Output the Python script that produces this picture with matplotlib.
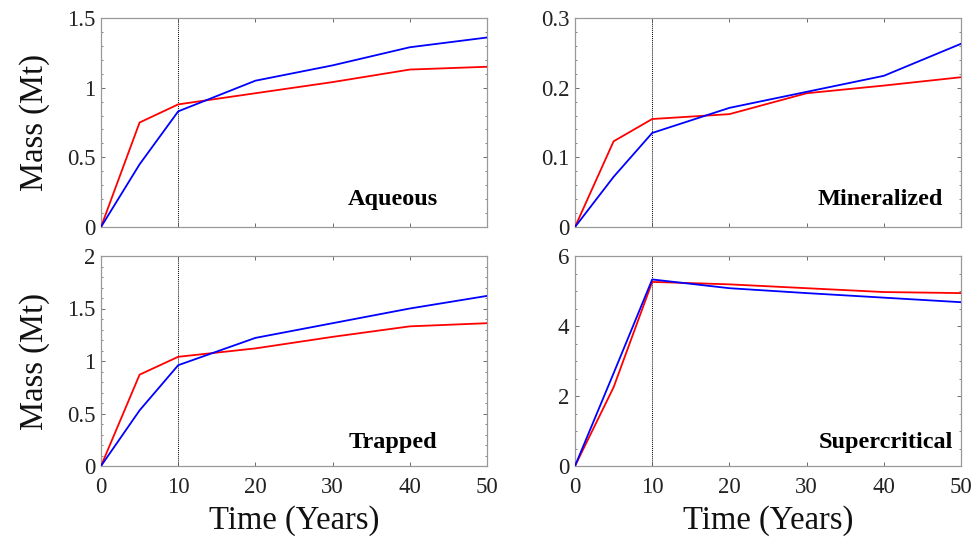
import matplotlib
matplotlib.use("Agg")
import matplotlib.pyplot as plt
from matplotlib.ticker import MultipleLocator

plt.rcParams['font.family'] = ['Liberation Serif', 'DejaVu Serif']

years = [0, 5, 10, 20, 30, 40, 50]

aqueous_red = [0, 0.75, 0.88, 0.96, 1.04, 1.13, 1.15]
aqueous_blue = [0, 0.45, 0.83, 1.05, 1.16, 1.29, 1.36]

mineral_red = [0, 0.123, 0.155, 0.162, 0.192, 0.203, 0.215]
mineral_blue = [0, 0.072, 0.135, 0.171, 0.194, 0.217, 0.263]

trapped_red = [0, 0.87, 1.04, 1.12, 1.23, 1.33, 1.36]
trapped_blue = [0, 0.53, 0.96, 1.22, 1.36, 1.50, 1.62]

super_red = [0, 2.25, 5.26, 5.19, 5.08, 4.97, 4.94]
super_blue = [0, 2.65, 5.33, 5.08, 4.94, 4.81, 4.68]

panels = [
    ("Aqueous", aqueous_red, aqueous_blue, 1.5, [0, 0.5, 1, 1.5], ["0", "0.5", "1", "1.5"], 0.1),
    ("Mineralized", mineral_red, mineral_blue, 0.3, [0, 0.1, 0.2, 0.3], ["0", "0.1", "0.2", "0.3"], 0.02),
    ("Trapped", trapped_red, trapped_blue, 2.0, [0, 0.5, 1, 1.5, 2], ["0", "0.5", "1", "1.5", "2"], 0.1),
    ("Supercritical", super_red, super_blue, 6.0, [0, 2, 4, 6], ["0", "2", "4", "6"], 0.5),
]

W, H = 979, 541
fig = plt.figure(figsize=(W / 100, H / 100), dpi=100)

boxes = [
    (101, 18, 487, 227),
    (575, 18, 961, 227),
    (101, 256, 487, 466),
    (575, 256, 961, 466),
]
label_pos = [(0.873, 0.13), (0.953, 0.13), (0.87, 0.11), (0.98, 0.11)]

for i, (name, red, blue, ymax, yt, ytl, minor) in enumerate(panels):
    x0, y0, x1, y1 = boxes[i]
    ax = fig.add_axes([x0 / W, 1 - y1 / H, (x1 - x0) / W, (y1 - y0) / H])
    ax.axvline(10, color='black', lw=0.7, ls=(0, (1, 1)), zorder=1)
    ax.plot(years, red, color='#ff0000', lw=1.3, zorder=3)
    ax.plot(years, blue, color='#0000ff', lw=1.3, zorder=3)
    ax.set_xlim(0, 50)
    ax.set_ylim(0, ymax)
    ax.set_xticks([0, 10, 20, 30, 40, 50])
    ax.set_yticks(yt)
    ax.set_yticklabels(ytl)
    ax.yaxis.set_minor_locator(MultipleLocator(minor))
    ax.tick_params(which='both', direction='in', top=True, right=True,
                   colors='#555555', labelcolor='#222222', labelsize=16.5)
    ax.tick_params(axis='y', pad=4)
    ax.tick_params(axis='x', pad=8)
    ax.tick_params(which='major', length=3, width=0.6)
    ax.tick_params(which='minor', length=1.5, width=0.5)
    for s in ax.spines.values():
        s.set_color('#999999')
        s.set_linewidth(0.9)
    if i < 2:
        ax.set_xticklabels([])
    else:
        ax.set_xlabel("Time (Years)", fontsize=23.5, color='#111111', labelpad=5)
    if i % 2 == 0:
        ax.set_ylabel("Mass (Mt)", fontsize=23.5, color='#111111', labelpad=12)
    lx, ly = label_pos[i]
    ax.text(lx, ly, name, transform=ax.transAxes, ha='right', va='center',
            fontsize=17.5, fontweight='bold', color='black')

fig.savefig("out.png", dpi=100)
